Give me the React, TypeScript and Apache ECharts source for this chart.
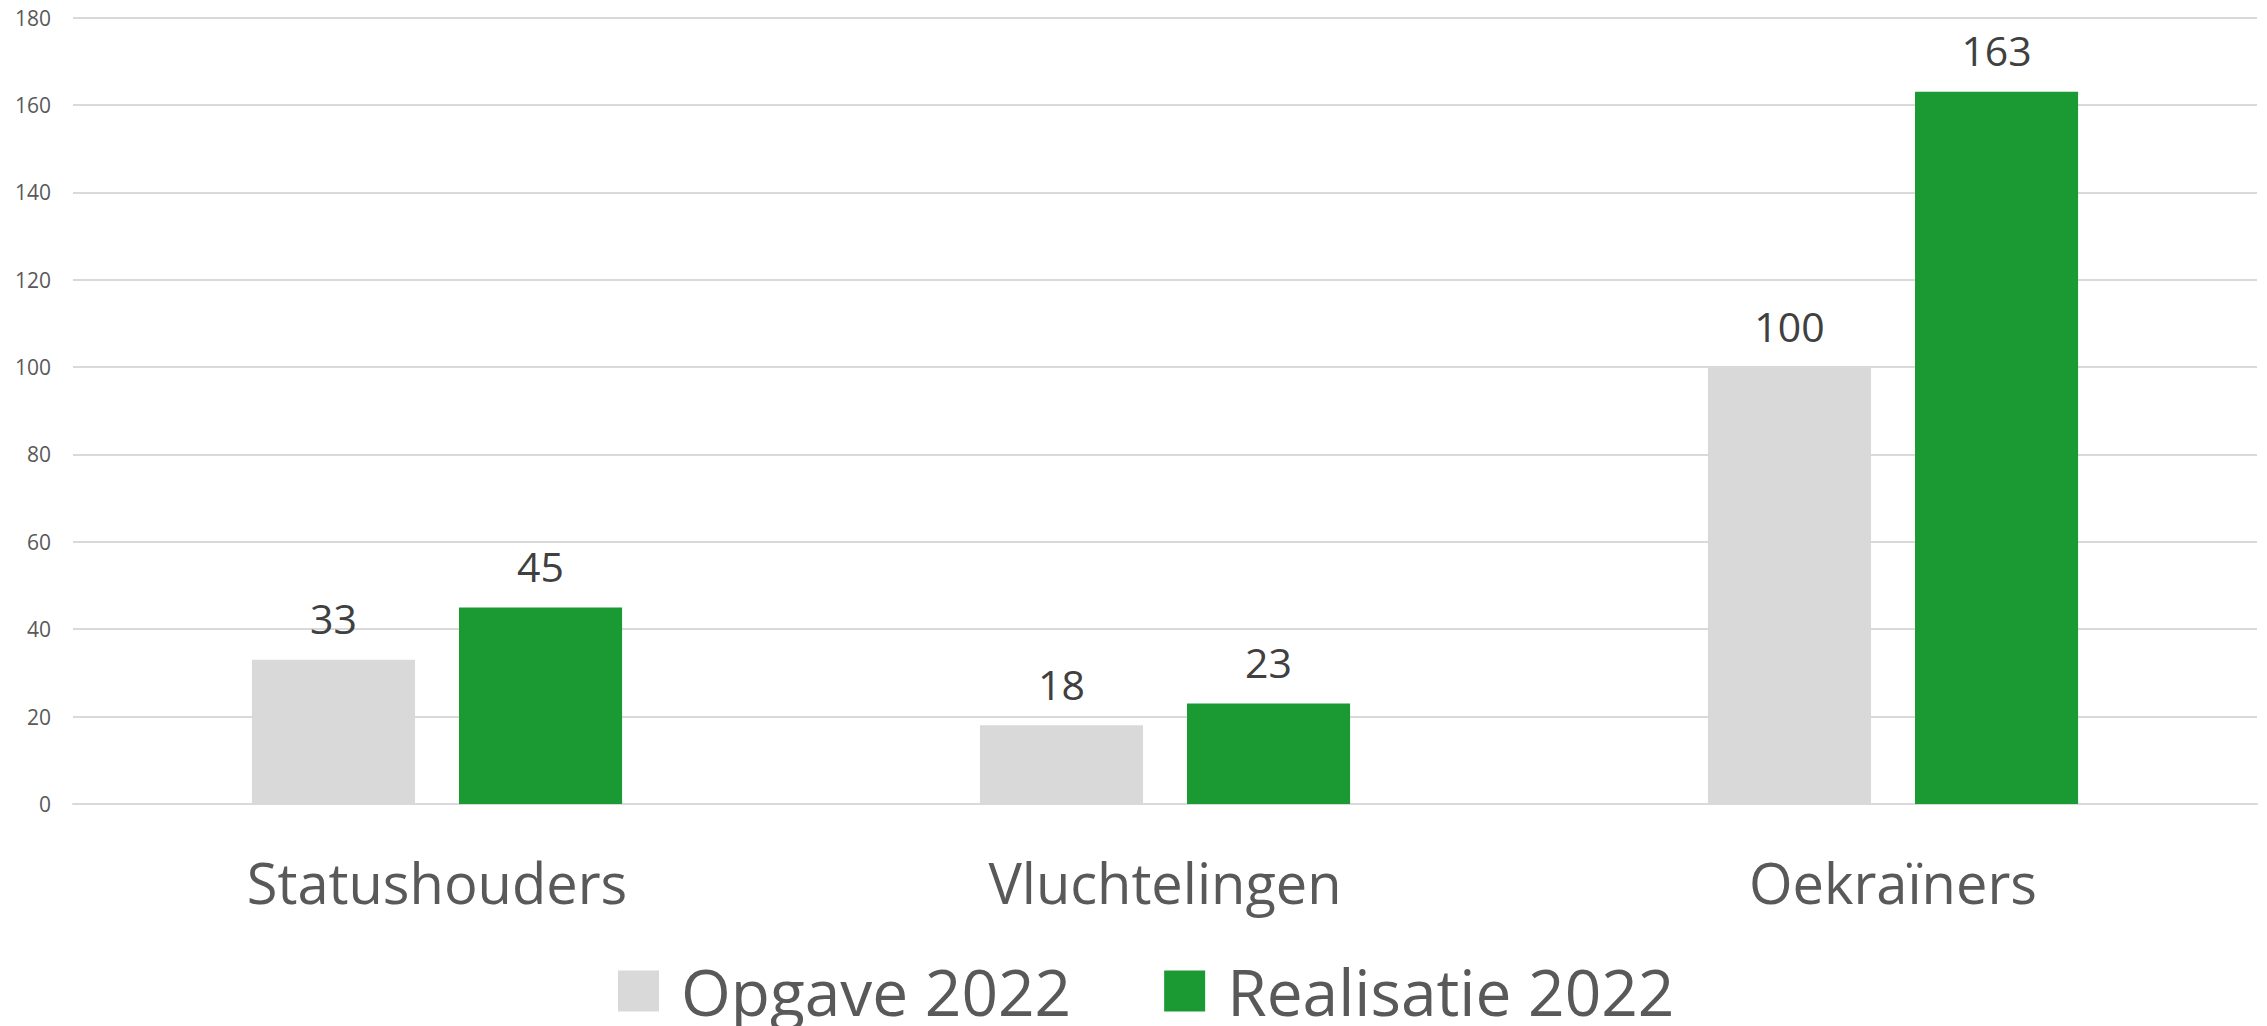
import React, { useEffect, useRef } from "react";
import * as echarts from "echarts";

const categories = ["Statushouders", "Vluchtelingen", "Oekraïners"];
const opgave2022 = [33, 18, 100];
const realisatie2022 = [45, 23, 163];
const seriesNames = ["Opgave 2022", "Realisatie 2022"];
const yTicks = { min: 0, max: 180, interval: 20 };

const FONT = "'Open Sans', 'Noto Sans', sans-serif";
const GRAY = "#d9d9d9";
const GREEN = "#1b9932";

export default function App() {
  const ref = useRef<HTMLDivElement>(null);
  useEffect(() => {
    if (!ref.current) return;
    const chart = echarts.init(ref.current, undefined, { renderer: "svg" });
    const labelStyle = {
      show: true,
      position: "top",
      distance: 21,
      color: "#404040",
      fontSize: 41,
      fontFamily: FONT,
    };
    chart.setOption({
      animation: false,
      backgroundColor: "#ffffff",
      grid: { left: 73, right: 10, top: 17.5, bottom: 222, containLabel: false },
      legend: {
        data: seriesNames,
        left: 613,
        top: 954,
        itemWidth: 41,
        itemHeight: 41,
        itemGap: 93,
        icon: "rect",
        textStyle: {
          color: "#595959",
          fontSize: 64,
          fontFamily: FONT,
          padding: [0, 0, 0, 17],
        },
      },
      xAxis: {
        type: "category",
        data: categories,
        axisTick: { show: false },
        axisLine: { show: true, lineStyle: { color: GRAY, width: 2 } },
        axisLabel: {
          color: "#595959",
          fontSize: 56,
          fontFamily: FONT,
          margin: 50,
        },
      },
      yAxis: {
        type: "value",
        min: yTicks.min,
        max: yTicks.max,
        interval: yTicks.interval,
        axisLine: { show: false },
        axisTick: { show: false },
        axisLabel: { color: "#595959", fontSize: 21, fontFamily: FONT, margin: 22 },
        splitLine: { lineStyle: { color: GRAY, width: 2 } },
      },
      series: [
        {
          name: seriesNames[0],
          type: "bar",
          data: opgave2022,
          barWidth: "22.4%",
          barGap: "27%",
          itemStyle: { color: GRAY },
          label: labelStyle,
        },
        {
          name: seriesNames[1],
          type: "bar",
          data: realisatie2022,
          barWidth: "22.4%",
          barGap: "27%",
          itemStyle: { color: GREEN },
          label: labelStyle,
        },
      ],
    });
    return () => chart.dispose();
  }, []);
  return (
    <div
      ref={ref}
      style={{ position: "fixed", left: 0, top: 0, width: 2267, height: 1026 }}
    />
  );
}
